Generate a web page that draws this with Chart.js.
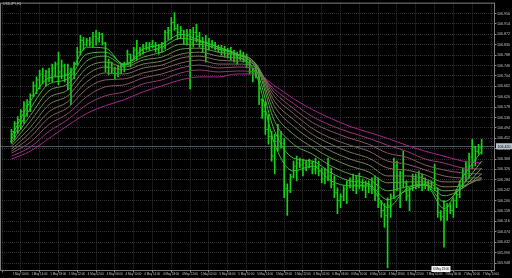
<!DOCTYPE html>
<html lang="en">
<head>
<meta charset="UTF-8">
<title>USDJPY,H1</title>
<script src="https://cdn.jsdelivr.net/npm/chart.js"></script>
<style>
  html, body { margin: 0; padding: 0; background: #000; overflow: hidden; }
</style>
</head>
<body>
<canvas id="priceChart" width="512" height="278"></canvas>
<script>
// chart values
const symbolTitle = 'USDJPY,H1';

const highs = [
  106.488, 106.520, 106.540, 106.568, 106.600, 106.608, 106.632, 106.680, 106.700, 106.728,
  106.736, 106.728, 106.736, 106.752, 106.760, 106.800, 106.768, 106.752, 106.752, 106.736,
  106.760, 106.820, 106.868, 106.860, 106.856, 106.860, 106.880, 106.888, 106.880, 106.876,
  106.840, 106.772, 106.760, 106.740, 106.748, 106.752, 106.760, 106.808, 106.792, 106.820,
  106.848, 106.820, 106.832, 106.840, 106.840, 106.848, 106.840, 106.832, 106.840, 106.888,
  106.900, 106.940, 106.960, 106.912, 106.904, 106.888, 106.892, 106.892, 106.900, 106.912,
  106.880, 106.860, 106.868, 106.856, 106.848, 106.840, 106.828, 106.828, 106.824, 106.816,
  106.820, 106.808, 106.800, 106.808, 106.800, 106.792, 106.768, 106.736, 106.752, 106.728,
  106.612, 106.600, 106.548, 106.480, 106.468, 106.508, 106.480, 106.452, 106.268, 106.308,
  106.360, 106.380, 106.372, 106.368, 106.360, 106.368, 106.360, 106.372, 106.360, 106.332,
  106.332, 106.372, 106.332, 106.300, 106.252, 106.228, 106.260, 106.280, 106.292, 106.308,
  106.300, 106.312, 106.288, 106.280, 106.280, 106.292, 106.300, 106.292, 106.200, 106.188,
  106.212, 106.228, 106.372, 106.360, 106.320, 106.400, 106.280, 106.252, 106.308, 106.308,
  106.320, 106.308, 106.292, 106.280, 106.280, 106.348, 106.252, 106.160, 106.200, 106.188,
  106.188, 106.212, 106.240, 106.280, 106.332, 106.360, 106.392, 106.448, 106.420, 106.428,
  106.448
];
const lows = [
  106.432, 106.448, 106.472, 106.488, 106.512, 106.540, 106.560, 106.620, 106.632, 106.652,
  106.672, 106.664, 106.680, 106.680, 106.700, 106.668, 106.692, 106.680, 106.648, 106.588,
  106.692, 106.748, 106.788, 106.808, 106.824, 106.824, 106.820, 106.828, 106.840, 106.828,
  106.720, 106.708, 106.712, 106.692, 106.700, 106.712, 106.720, 106.748, 106.740, 106.768,
  106.768, 106.784, 106.792, 106.808, 106.808, 106.816, 106.800, 106.792, 106.800, 106.812,
  106.852, 106.852, 106.888, 106.852, 106.856, 106.832, 106.828, 106.652, 106.820, 106.840,
  106.820, 106.800, 106.760, 106.808, 106.816, 106.808, 106.800, 106.788, 106.780, 106.776,
  106.768, 106.760, 106.752, 106.768, 106.760, 106.736, 106.712, 106.680, 106.696, 106.588,
  106.532, 106.468, 106.428, 106.360, 106.308, 106.400, 106.412, 106.212, 106.140, 106.232,
  106.292, 106.280, 106.332, 106.300, 106.320, 106.332, 106.308, 106.308, 106.300, 106.272,
  106.268, 106.280, 106.252, 106.212, 106.148, 106.172, 106.200, 106.188, 106.252, 106.240,
  106.228, 106.248, 106.240, 106.212, 106.232, 106.228, 106.200, 106.172, 106.132, 106.092,
  105.928, 106.132, 106.208, 106.240, 106.172, 106.252, 106.200, 106.160, 106.240, 106.248,
  106.252, 106.240, 106.248, 106.240, 106.252, 106.240, 106.132, 106.120, 106.012, 106.120,
  106.148, 106.132, 106.172, 106.212, 106.252, 106.280, 106.292, 106.328, 106.340, 106.388,
  106.388
];
const opens = [
  106.440, 106.480, 106.512, 106.528, 106.560, 106.584, 106.600, 106.624, 106.664, 106.688,
  106.712, 106.704, 106.720, 106.696, 106.736, 106.752, 106.720, 106.744, 106.712, 106.664,
  106.720, 106.752, 106.800, 106.848, 106.832, 106.848, 106.840, 106.864, 106.856, 106.872,
  106.836, 106.740, 106.760, 106.728, 106.712, 106.736, 106.744, 106.752, 106.792, 106.768,
  106.808, 106.800, 106.812, 106.824, 106.816, 106.832, 106.824, 106.812, 106.824, 106.832,
  106.880, 106.888, 106.920, 106.896, 106.880, 106.888, 106.856, 106.872, 106.840, 106.880,
  106.864, 106.840, 106.824, 106.840, 106.824, 106.832, 106.816, 106.812, 106.800, 106.808,
  106.792, 106.800, 106.780, 106.776, 106.792, 106.768, 106.752, 106.720, 106.712, 106.720,
  106.608, 106.560, 106.488, 106.460, 106.380, 106.440, 106.460, 106.432, 106.248, 106.240,
  106.296, 106.340, 106.352, 106.344, 106.352, 106.336, 106.352, 106.328, 106.340, 106.320,
  106.288, 106.312, 106.300, 106.264, 106.232, 106.200, 106.216, 106.248, 106.272, 106.280,
  106.264, 106.280, 106.264, 106.256, 106.264, 106.248, 106.272, 106.220, 106.192, 106.160,
  106.140, 106.180, 106.216, 106.340, 106.272, 106.312, 106.272, 106.220, 106.248, 106.288,
  106.272, 106.296, 106.264, 106.272, 106.256, 106.272, 106.248, 106.152, 106.136, 106.160,
  106.176, 106.160, 106.200, 106.224, 106.264, 106.320, 106.336, 106.376, 106.416, 106.400,
  106.416
];
const closes = [
  106.480, 106.512, 106.528, 106.560, 106.584, 106.600, 106.624, 106.664, 106.688, 106.712,
  106.704, 106.720, 106.696, 106.736, 106.752, 106.720, 106.744, 106.712, 106.664, 106.720,
  106.752, 106.800, 106.848, 106.832, 106.848, 106.840, 106.864, 106.856, 106.872, 106.836,
  106.740, 106.760, 106.728, 106.712, 106.736, 106.744, 106.752, 106.792, 106.768, 106.808,
  106.800, 106.812, 106.824, 106.816, 106.832, 106.824, 106.812, 106.824, 106.832, 106.880,
  106.888, 106.920, 106.896, 106.880, 106.888, 106.856, 106.872, 106.840, 106.880, 106.864,
  106.840, 106.824, 106.840, 106.824, 106.832, 106.816, 106.812, 106.800, 106.808, 106.792,
  106.800, 106.780, 106.776, 106.792, 106.768, 106.752, 106.720, 106.712, 106.720, 106.608,
  106.560, 106.488, 106.460, 106.380, 106.440, 106.460, 106.432, 106.248, 106.240, 106.296,
  106.340, 106.352, 106.344, 106.352, 106.336, 106.352, 106.328, 106.340, 106.320, 106.288,
  106.312, 106.300, 106.264, 106.232, 106.200, 106.216, 106.248, 106.272, 106.280, 106.264,
  106.280, 106.264, 106.256, 106.264, 106.248, 106.272, 106.220, 106.192, 106.160, 106.140,
  106.180, 106.216, 106.340, 106.272, 106.312, 106.272, 106.220, 106.248, 106.288, 106.272,
  106.296, 106.264, 106.272, 106.256, 106.272, 106.248, 106.152, 106.136, 106.160, 106.176,
  106.160, 106.200, 106.224, 106.264, 106.320, 106.336, 106.376, 106.416, 106.400, 106.416,
  106.420
];

// moving averages, read at every 6th bar
const maIdx = [0, 6, 12, 18, 24, 30, 36, 42, 48, 54, 60, 66, 72, 78, 84, 90, 96, 102, 108, 114, 120, 126, 132, 138, 144, 150];
const ma1 = [106.460, 106.600, 106.696, 106.708, 106.820, 106.816, 106.748, 106.812, 106.832, 106.872, 106.848, 106.820, 106.784, 106.712, 106.428, 106.320, 106.340, 106.280, 106.260, 106.260, 106.172, 106.248, 106.264, 106.168, 106.296, 106.400];
const ma2 = [106.448, 106.572, 106.672, 106.692, 106.792, 106.800, 106.752, 106.796, 106.820, 106.856, 106.844, 106.820, 106.792, 106.732, 106.480, 106.372, 106.360, 106.312, 106.280, 106.268, 106.204, 106.240, 106.264, 106.196, 106.264, 106.360];
const ma3 = [106.436, 106.544, 106.644, 106.672, 106.764, 106.784, 106.748, 106.780, 106.800, 106.832, 106.832, 106.812, 106.792, 106.748, 106.520, 106.428, 106.388, 106.340, 106.308, 106.288, 106.240, 106.256, 106.268, 106.220, 106.252, 106.332];
const ma4 = [106.428, 106.520, 106.616, 106.648, 106.736, 106.760, 106.740, 106.768, 106.780, 106.812, 106.816, 106.800, 106.788, 106.752, 106.552, 106.468, 106.416, 106.372, 106.340, 106.316, 106.272, 106.276, 106.276, 106.240, 106.252, 106.308];
const ma5 = [106.420, 106.496, 106.588, 106.624, 106.708, 106.740, 106.728, 106.752, 106.764, 106.792, 106.800, 106.784, 106.776, 106.752, 106.580, 106.500, 106.444, 106.400, 106.368, 106.344, 106.300, 106.300, 106.288, 106.256, 106.260, 106.292];
const ma6 = [106.408, 106.476, 106.560, 106.600, 106.680, 106.716, 106.712, 106.736, 106.748, 106.776, 106.784, 106.768, 106.764, 106.748, 106.600, 106.528, 106.468, 106.428, 106.396, 106.372, 106.332, 106.324, 106.304, 106.276, 106.276, 106.284];
const ma7 = [106.400, 106.456, 106.536, 106.576, 106.652, 106.688, 106.692, 106.716, 106.732, 106.756, 106.768, 106.752, 106.752, 106.740, 106.620, 106.552, 106.492, 106.452, 106.424, 106.400, 106.360, 106.348, 106.324, 106.300, 106.292, 106.292];
const ma8 = [106.392, 106.436, 106.508, 106.552, 106.620, 106.660, 106.668, 106.696, 106.712, 106.736, 106.748, 106.736, 106.740, 106.732, 106.636, 106.572, 106.516, 106.480, 106.452, 106.428, 106.392, 106.376, 106.344, 106.324, 106.312, 106.308];
const ma9 = [106.380, 106.416, 106.480, 106.528, 106.588, 106.624, 106.640, 106.672, 106.688, 106.716, 106.728, 106.720, 106.724, 106.720, 106.648, 106.592, 106.540, 106.504, 106.476, 106.452, 106.424, 106.400, 106.368, 106.352, 106.332, 106.328];
const ma10 = [106.368, 106.400, 106.452, 106.504, 106.552, 106.584, 106.608, 106.640, 106.664, 106.688, 106.700, 106.700, 106.712, 106.712, 106.664, 106.612, 106.568, 106.532, 106.500, 106.476, 106.452, 106.424, 106.400, 106.380, 106.360, 106.352];

// tick labels
const timeLabels = [
  '1 May 10:00', '1 May 14:00', '1 May 18:00', '1 May 22:00', '4 May 02:00', '4 May 06:00',
  '4 May 10:00', '4 May 14:00', '4 May 18:00', '4 May 22:00', '5 May 02:00', '5 May 06:00',
  '5 May 10:00', '5 May 14:00', '5 May 18:00', '5 May 22:00', '6 May 02:00', '6 May 06:00',
  '6 May 10:00', '6 May 14:00', '6 May 18:00', '6 May 22:00', '7 May 02:00', '7 May 06:00',
  '7 May 10:00', '7 May 14:00'
];
const timeTickIdx = [0, 6, 12, 18, 24, 30, 36, 42, 48, 54, 60, 66, 72, 78, 84, 90, 96, 102, 108, 114, 120, 126, 132, 138, 144, 150];
const priceTicks = [
  106.956, 106.914, 106.872, 106.830, 106.788, 106.746, 106.704, 106.662, 106.620, 106.578,
  106.536, 106.494, 106.452, 106.410, 106.368, 106.326, 106.284, 106.242, 106.200, 106.158,
  106.116, 106.074, 106.032, 105.990, 105.948
];
const markerIndex = 134;
const markerText = '6 May 23:00';

// styles
const barColor = '#12d412';
const maColors = ['#24cc24', '#44b83e', '#5ea248', '#6f8f4e', '#7b7f54', '#7f705a', '#836261', '#8a506c', '#94397a', '#a8248e'];
const textColor = '#c4c4c4';
const gridColor = '#333333';
const fontFamily = '"Liberation Sans", Arial, sans-serif';

Chart.defaults.font.family = fontFamily;

const maSeries = [ma1, ma2, ma3, ma4, ma5, ma6, ma7, ma8, ma9, ma10];
const maSets = maSeries.map((vals, n) => ({
  type: 'line',
  data: maIdx.map((x, k) => ({ x: x, y: vals[k] })),
  borderColor: maColors[n],
  borderWidth: 1,
  pointRadius: 0,
  cubicInterpolationMode: 'monotone',
  order: 1
}));

const barSet = {
  type: 'bar',
  data: highs.map((h, i) => ({ x: i, y: [lows[i], h] })),
  backgroundColor: barColor,
  barThickness: 1,
  order: 2
};

// open / close nubs of every bar
const ohlcNubs = {
  id: 'ohlcNubs',
  afterDatasetsDraw(chart) {
    const { ctx, scales: { x, y } } = chart;
    ctx.save();
    ctx.fillStyle = barColor;
    for (let i = 0; i < opens.length; i++) {
      const px = x.getPixelForValue(i);
      ctx.fillRect(px - 1.4, y.getPixelForValue(opens[i]) - 0.5, 0.9, 1);
      ctx.fillRect(px + 0.5, y.getPixelForValue(closes[i]) - 0.5, 0.9, 1);
    }
    ctx.restore();
  }
};

// bid line, frame, price box, title
const terminalDecor = {
  id: 'terminalDecor',
  beforeDraw(chart) {
    const ctx = chart.ctx;
    ctx.save();
    ctx.fillStyle = '#000';
    ctx.fillRect(0, 0, chart.width, chart.height);
    ctx.restore();
  },
  beforeDatasetsDraw(chart) {
    const { ctx, chartArea: a, scales: { y } } = chart;
    const py = Math.round(y.getPixelForValue(closes[closes.length - 1])) + 0.5;
    ctx.save();
    ctx.strokeStyle = '#4e5868';
    ctx.lineWidth = 1;
    ctx.beginPath();
    ctx.moveTo(a.left, py);
    ctx.lineTo(a.right, py);
    ctx.stroke();
    ctx.restore();
  },
  afterDraw(chart) {
    const { ctx, chartArea: a, scales: { x, y } } = chart;
    ctx.save();
    ctx.strokeStyle = '#7c7c7c';
    ctx.lineWidth = 1;
    ctx.strokeRect(a.left + 0.5, a.top + 0.5, a.right - a.left - 1, a.bottom - a.top);

    const last = closes[closes.length - 1];
    const py = y.getPixelForValue(last);
    ctx.fillStyle = '#b8c0cc';
    ctx.fillRect(a.right + 1, py - 3, 16, 6);
    ctx.fillStyle = '#000';
    ctx.font = '3.6px ' + fontFamily;
    ctx.textBaseline = 'middle';
    ctx.textAlign = 'left';
    ctx.fillText(last.toFixed(3), a.right + 2.5, py + 0.3);

    const mx = x.getPixelForValue(markerIndex);
    ctx.fillStyle = '#f2f2f2';
    ctx.fillRect(mx, a.bottom - 4, 19, 6);
    ctx.fillStyle = '#000';
    ctx.font = '2.9px ' + fontFamily;
    ctx.fillText(markerText, mx + 1.5, a.bottom - 1);

    ctx.fillStyle = textColor;
    ctx.font = '3.4px ' + fontFamily;
    ctx.textBaseline = 'top';
    ctx.fillText(symbolTitle, 3, 2.5);
    ctx.restore();
  }
};

new Chart(document.getElementById('priceChart'), {
  data: { datasets: [...maSets, barSet] },
  options: {
    responsive: false,
    devicePixelRatio: 1,
    animation: false,
    events: [],
    layout: { padding: 0 },
    plugins: { legend: { display: false }, tooltip: { enabled: false } },
    scales: {
      x: {
        type: 'linear',
        min: -0.613,
        max: 151.23,
        afterBuildTicks: s => { s.ticks = timeTickIdx.map(v => ({ value: v })); },
        afterFit: s => { s.height = 8; s.paddingLeft = 0; s.paddingRight = 0; },
        ticks: {
          autoSkip: false,
          maxRotation: 0,
          align: 'start',
          labelOffset: 1.2,
          padding: 0,
          color: textColor,
          font: { size: 2.9 },
          callback: v => timeLabels[timeTickIdx.indexOf(v)]
        },
        grid: { color: gridColor, tickColor: '#8a8a8a', tickLength: 2.5 },
        border: { display: false, dash: [1, 1] }
      },
      y: {
        position: 'right',
        min: 105.92,
        max: 107.0,
        afterBuildTicks: s => { s.ticks = priceTicks.map(v => ({ value: v })); },
        afterFit: s => { s.width = 17; },
        ticks: {
          padding: 0.5,
          color: textColor,
          font: { size: 3.6 },
          callback: v => v.toFixed(3)
        },
        grid: { color: gridColor, tickColor: '#8a8a8a', tickLength: 1.5 },
        border: { display: false, dash: [1, 1] }
      }
    }
  },
  plugins: [ohlcNubs, terminalDecor]
});
</script>
</body>
</html>
